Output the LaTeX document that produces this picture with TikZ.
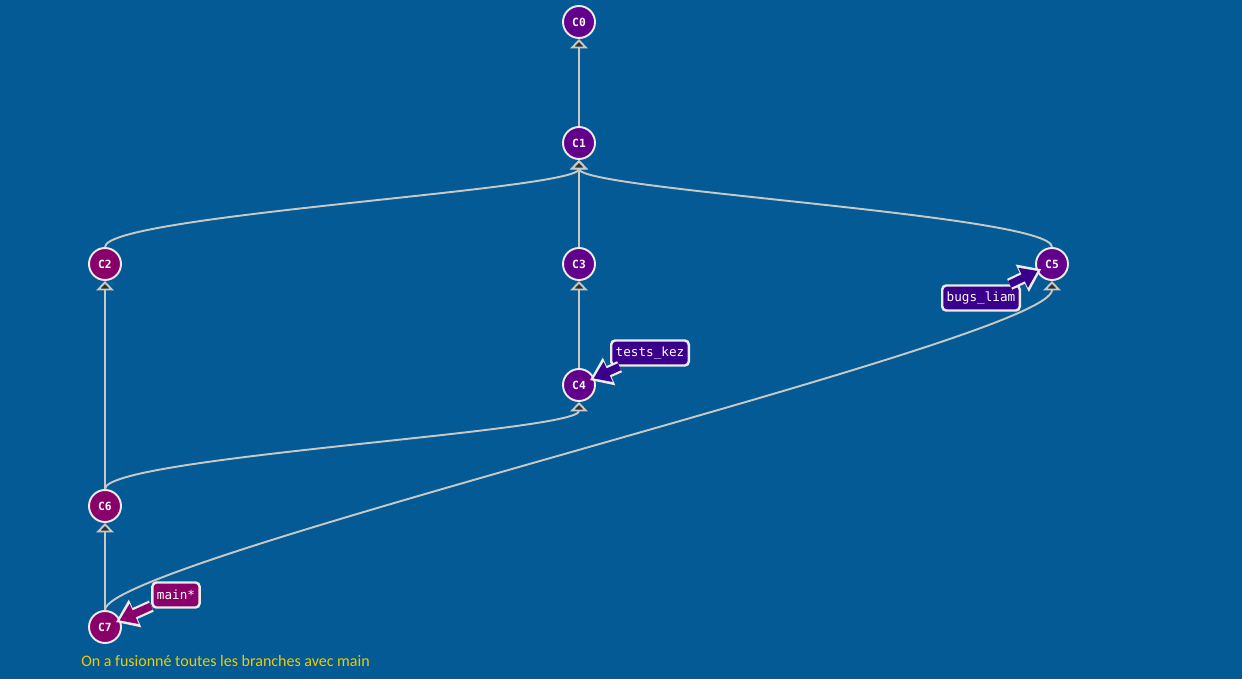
\documentclass[tikz,border=0pt]{standalone}
\usepackage{fontspec}
\setmonofont{DejaVu Sans Mono}
\newfontfamily\captionfont{Carlito}
\usetikzlibrary{arrows.meta}
\definecolor{gitblue}{RGB}{4,90,148}
\definecolor{gitpurple}{RGB}{98,0,140}
\definecolor{gitmagenta}{RGB}{138,0,106}
\definecolor{gitindigo}{RGB}{58,0,140}
\definecolor{gitedge}{RGB}{200,200,196}
\definecolor{gittip}{RGB}{48,48,48}
\definecolor{gityellow}{RGB}{236,204,0}

\begin{document}
\begin{tikzpicture}[x=0.02cm,y=-0.02cm,
	commit/.style={circle, draw=white!92!black, line width=1.1pt, minimum size=0.64cm, inner sep=0pt, text=white, font=\fontsize{6.4}{7}\selectfont\ttfamily\bfseries},
	parent/.style={gitedge, line width=1.1pt, -{Triangle[length=0.19cm,width=0.35cm,fill=gittip]}},
	tagbox/.style={rectangle, rounded corners=0.08cm, draw=white!92!black, line width=1.4pt, text=white, minimum height=0.5cm, inner xsep=0.09cm, font=\fontsize{7.2}{8}\selectfont\ttfamily},
	tagrim/.style={white!92!black, line width=0.24cm, shorten >=-0.1cm, -{Triangle[length=0.42cm,width=0.58cm]}},
	tagshaft/.style={#1, line width=0.15cm, shorten >=-0.02cm, -{Triangle[length=0.32cm,width=0.42cm]}}]
	
	% fond
	\fill[gitblue] (0,0) rectangle (1242,679);
	\useasboundingbox (0,0) rectangle (1242,679);
	
	% commits
	\node[commit, fill=gitpurple] (C0) at (579,22) {C0};
	\node[commit, fill=gitpurple] (C1) at (579,143) {C1};
	\node[commit, fill=gitmagenta] (C2) at (105,264) {C2};
	\node[commit, fill=gitpurple] (C3) at (579,264) {C3};
	\node[commit, fill=gitpurple] (C5) at (1052,264) {C5};
	\node[commit, fill=gitpurple] (C4) at (579,385) {C4};
	\node[commit, fill=gitmagenta] (C6) at (105,506) {C6};
	\node[commit, fill=gitmagenta] (C7) at (105,627) {C7};
	
	% parents
	\draw[parent] (C1) -- (C0);
	\draw[parent] (C3) -- (C1);
	\draw[parent] (C2) .. controls (105,215) and (579,190) .. (C1);
	\draw[parent] (C5) .. controls (1052,215) and (579,190) .. (C1);
	\draw[parent] (C4) -- (C3);
	\draw[parent] (C6) -- (C2);
	\draw[parent] (C6) .. controls (105,457) and (579,432) .. (C4);
	\draw[parent] (C7) -- (C6);
	\draw[parent] (C7) .. controls (105,560) and (1052,340) .. (C5);
	
	% branches
	\node[tagbox, fill=gitindigo] (bugs) at (981,298) {bugs\_liam};
	\node[tagbox, fill=gitindigo] (tests) at (650,353) {tests\_kez};
	\node[tagbox, fill=gitmagenta] (main) at (176,595) {main*};
	
	\draw[tagrim] (bugs) -- (C5);
	\draw[tagshaft=gitindigo] (bugs) -- (C5);
	\draw[tagrim] (tests) -- (C4);
	\draw[tagshaft=gitindigo] (tests) -- (C4);
	\draw[tagrim] (main) -- (C7);
	\draw[tagshaft=gitmagenta] (main) -- (C7);
	
	\node[anchor=base west, inner sep=0pt, text=gityellow, font=\fontsize{9.1}{11}\selectfont\captionfont] (note) at (81,666) {On a fusionné toutes les branches avec main};
	
\end{tikzpicture}
\end{document}
